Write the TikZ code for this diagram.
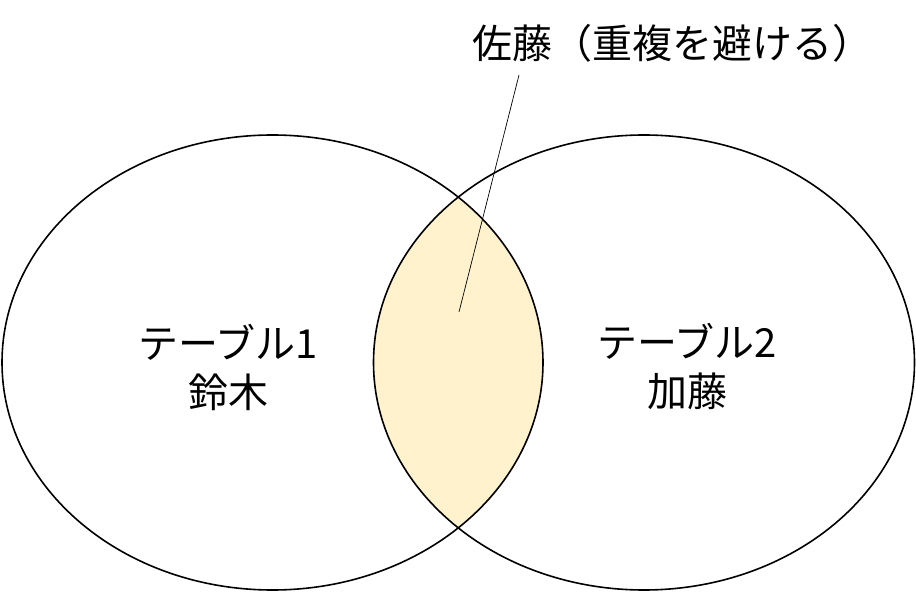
\documentclass[tikz,border=0pt]{standalone}
\usepackage{fontspec}
\newfontfamily\jp{Noto Sans CJK JP}
\usetikzlibrary{shapes.geometric}
\definecolor{lapfill}{HTML}{FFF2CC}
\tikzset{
  setbox/.style={draw=black, line width=1.6pt, ellipse, inner sep=0pt,
    minimum width=541pt, minimum height=455pt},
  lbl/.style={font=\jp\fontsize{40}{49}\selectfont, align=center, inner sep=0pt},
  leader/.style={draw=black, line width=0.7pt}
}
\begin{document}
\begin{tikzpicture}[x=1pt,y=-1pt]
\useasboundingbox (0,0) rectangle (916,593);
\begin{scope}
  \clip (272.5,362.5) ellipse [x radius=270.5pt, y radius=227.5pt];
  \fill[lapfill] (644,362.5) ellipse [x radius=270.5pt, y radius=227.5pt];
\end{scope}
\node[setbox] (t1) at (272.5,362.5) {};
\node[setbox] (t2) at (644,362.5) {};
\node[lbl] (l1) at (228,367) {テーブル1\\鈴木};
\node[lbl] (l2) at (687,367) {テーブル2\\加藤};
\node[lbl] (sato) at (672,43) {佐藤（重複を避ける）};
\coordinate (ltop) at (519,75);
\coordinate (lend) at (459,312);
\draw[leader] (ltop) -- (lend);
\end{tikzpicture}
\end{document}
